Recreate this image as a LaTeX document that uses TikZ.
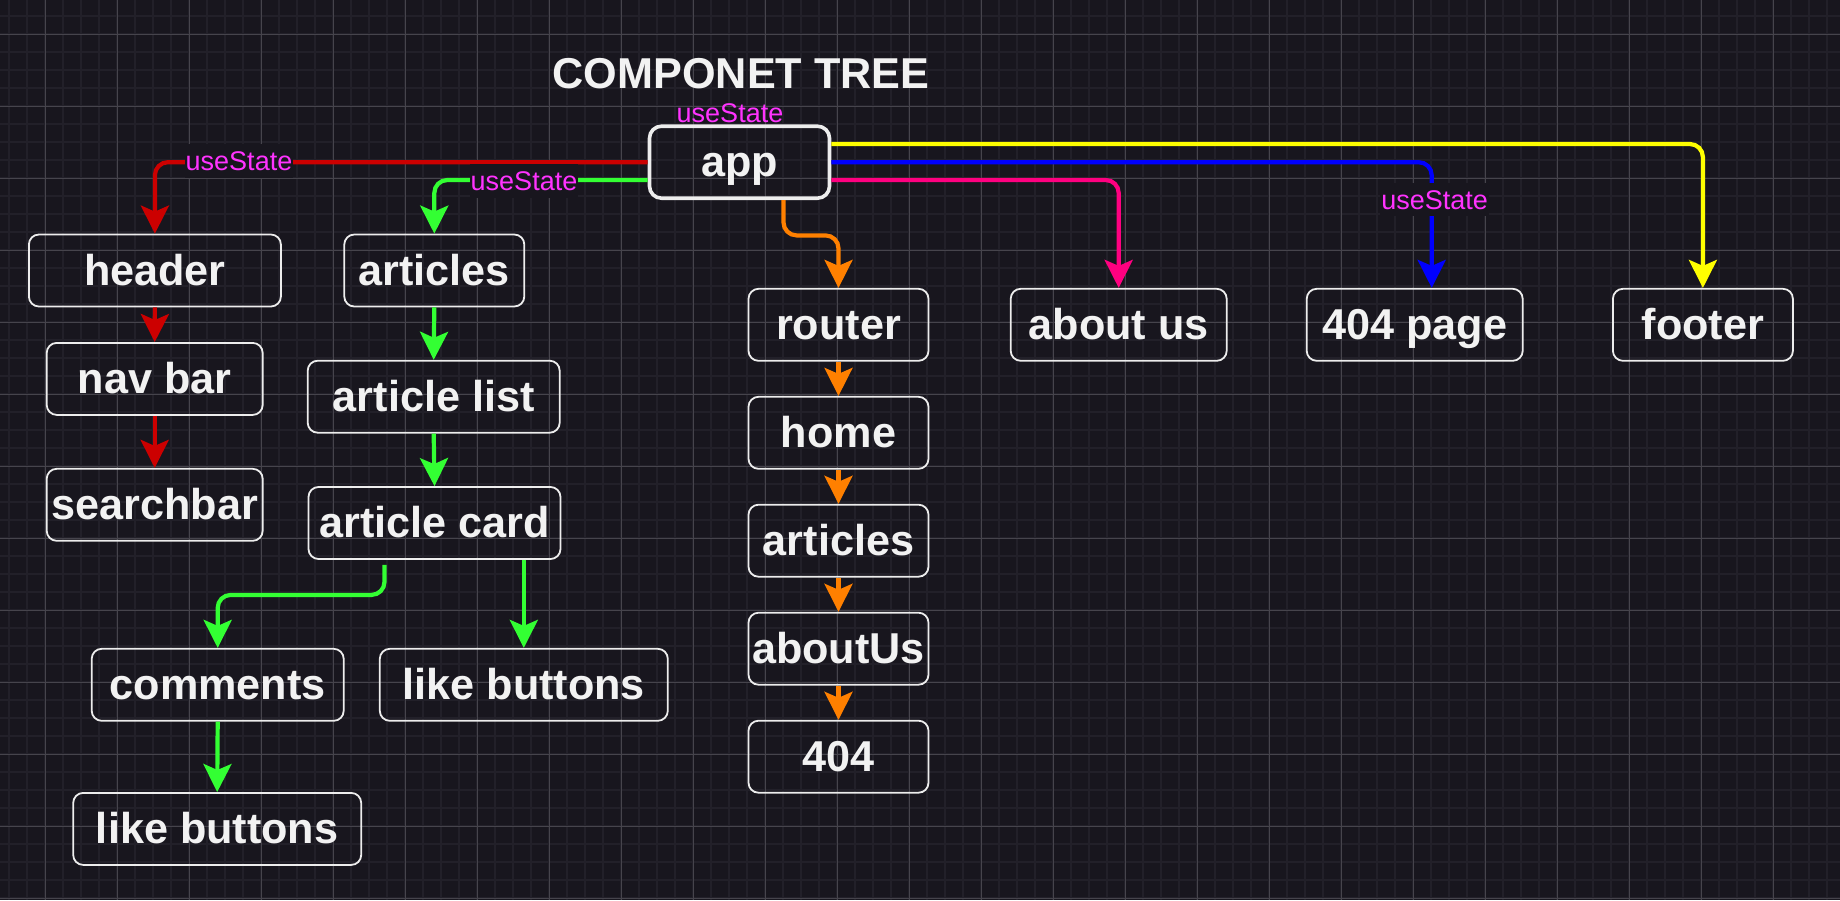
\documentclass[tikz,border=0pt]{standalone}
\usepackage{fontspec}
\setmainfont{Liberation Sans}
\usetikzlibrary{arrows.meta,calc}
\definecolor{bgc}{HTML}{18161E}
\definecolor{minorc}{HTML}{222029}
\definecolor{majorc}{HTML}{46444C}
\definecolor{boxc}{HTML}{EDEDED}
\definecolor{txtc}{HTML}{F2F2F2}
\definecolor{lblc}{HTML}{FF33FF}
\definecolor{redc}{HTML}{CC0000}
\definecolor{greenc}{HTML}{33FF33}
\definecolor{orangec}{HTML}{FF8000}
\definecolor{pinkc}{HTML}{FF0080}
\definecolor{bluec}{HTML}{0000FF}
\definecolor{yellowc}{HTML}{FFFF00}
\newcommand{\boxfont}{\fontsize{21.6pt}{26pt}\selectfont\bfseries}
\newcommand{\lblfont}{\fontsize{13.5pt}{16pt}\selectfont}
\begin{document}
\begin{tikzpicture}[x=0.5pt,y=-0.5pt,
  box/.style={draw=boxc, line width=0.9pt, rounded corners=5pt, minimum height=36pt,
    text=txtc, font=\boxfont, inner sep=0pt, text height=19pt, text depth=4.5pt},
  appbox/.style={box, line width=1.8pt, rounded corners=6pt},
  conn/.style={line width=2.1pt, rounded corners=6.5pt, -{Stealth[length=14pt,width=14pt,inset=3pt]}},
  lbl/.style={text=lblc, font=\lblfont, inner xsep=0.5pt, inner ysep=1pt, text height=12.1pt, text depth=2.7pt, anchor=base},
  minorline/.style={draw=minorc, line width=1pt},
  majorline/.style={draw=majorc, line width=0.5pt}
]
\useasboundingbox (0,0) rectangle (1840,900);
\fill[bgc] (0,0) rectangle (1840,900);
\foreach \x in {9,27,...,1840} \draw[minorline] (\x,0) -- (\x,900);
\foreach \y in {16.3,34.3,...,900} \draw[minorline] (0,\y) -- (1840,\y);
\foreach \x in {45,117,...,1840} \draw[majorline] (\x,0) -- (\x,900);
\foreach \y in {34.3,106.3,...,900} \draw[majorline] (0,\y) -- (1840,\y);

\node[text=txtc, font=\boxfont, anchor=base] (title) at (741,88) {COMPONET TREE};

\node[appbox, minimum width=90pt] (app) at (739.5,162.2) {app};

\node[box, minimum width=126pt] (header) at (154.9,270.5) {header};
\node[box, minimum width=108pt] (navbar) at (154.7,378.9) {nav bar};
\node[box, minimum width=108pt] (search) at (154.7,504.8) {searchbar};

\node[box, minimum width=90pt] (articles) at (434.3,270.5) {articles};
\node[box, minimum width=126pt] (alist) at (433.7,396.7) {article list};
\node[box, minimum width=126pt] (acard) at (434.5,523) {article card};
\node[box, minimum width=126pt] (comments) at (217.7,684.8) {comments};
\node[box, minimum width=144pt] (like1) at (523.8,684.8) {like buttons};
\node[box, minimum width=144pt] (like2) at (217.2,828.9) {like buttons};

\node[box, minimum width=90pt] (router) at (838.5,324.8) {router};
\node[box, minimum width=90pt] (home) at (838.5,432.8) {home};
\node[box, minimum width=90pt] (rarticles) at (838.5,540.7) {articles};
\node[box, minimum width=90pt] (raboutus) at (838.5,648.7) {aboutUs};
\node[box, minimum width=90pt] (r404) at (838.5,756.7) {404};

\node[box, minimum width=108pt] (about) at (1118.7,324.8) {about us};
\node[box, minimum width=108pt] (page404) at (1414.7,324.8) {404 page};
\node[box, minimum width=90pt] (footer) at (1702.9,324.8) {footer};

% connectors from app
\draw[conn, color=redc] (app.west) -| (header.north);
\draw[conn, color=greenc] ([yshift=-8.9pt]app.west) -| (articles.north);
\draw[conn, color=orangec] ([xshift=22pt]app.south) -- ++(0,-17.7pt) -| (router.north);
\draw[conn, color=pinkc] ([yshift=-8.9pt]app.east) -| (about.north);
\draw[conn, color=bluec] (app.east) -| ([xshift=8.5pt]page404.north);
\draw[conn, color=yellowc] ([yshift=9.1pt]app.east) -| (footer.north);

% header chain
\draw[conn, color=redc] (header.south) -- (navbar.north);
\draw[conn, color=redc] (navbar.south) -- (search.north);

% articles chain
\draw[conn, color=greenc] (articles.south) -- (alist.north);
\draw[conn, color=greenc] (alist.south) -- (acard.north);
\draw[conn, color=greenc] ([xshift=-25pt,yshift=-2.5pt]acard.south) -- ++(0,-15pt) -| (comments.north);
\draw[conn, color=greenc] (acard.south -| like1.north) -- (like1.north);
\draw[conn, color=greenc] (comments.south) -- (like2.north);

% router chain
\draw[conn, color=orangec] (router.south) -- (home.north);
\draw[conn, color=orangec] (home.south) -- (rarticles.north);
\draw[conn, color=orangec] (rarticles.south) -- (raboutus.north);
\draw[conn, color=orangec] (raboutus.south) -- (r404.north);

% labels
\node[lbl] (l0) at (730,122.5) {useState};
\node[lbl, fill=bgc] (l1) at (239,170.5) {useState};
\node[lbl, fill=bgc] (l2) at (524,190.5) {useState};
\node[lbl, fill=bgc] (l3) at (1434.7,209) {useState};
\end{tikzpicture}
\end{document}
